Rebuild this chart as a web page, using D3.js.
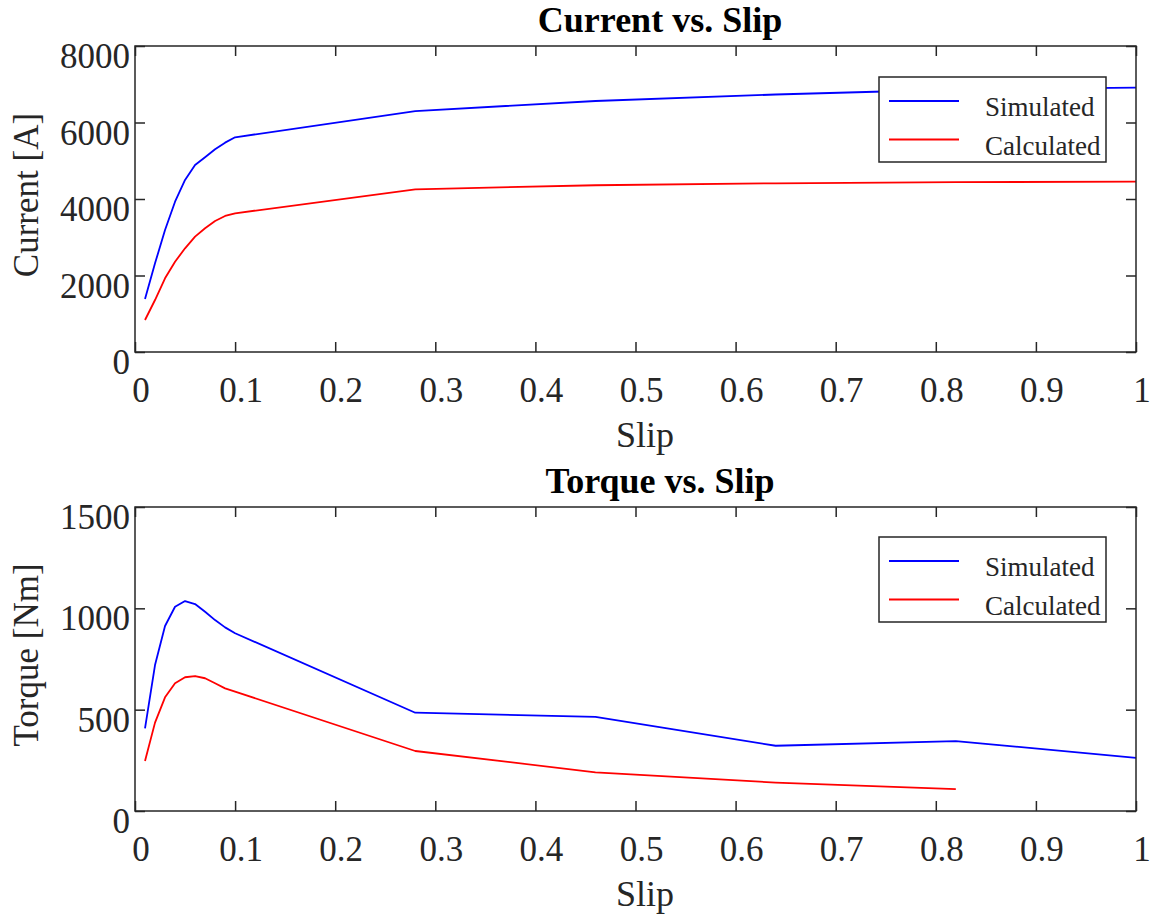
<!DOCTYPE html>
<html>
<head>
<meta charset="utf-8">
<script src="https://cdn.jsdelivr.net/npm/d3@7"></script>
<style>
  html, body { margin: 0; padding: 0; background: #fff; }
  svg text { font-family: "Liberation Serif", "Times New Roman", serif; fill: #262626; }
</style>
</head>
<body>
<svg id="chart" width="1155" height="916"></svg>
<script>
const slip = [0.01,0.02,0.03,0.04,0.05,0.06,0.07,0.08,0.09,0.1,0.28,0.46,0.64,0.82,1.0];
const currentSimulated  = [1385,2318,3190,3930,4497,4889,5090,5300,5473,5613,6300,6562,6732,6863,6912];
const currentCalculated = [837,1359,1926,2361,2711,3015,3234,3425,3556,3626,4253,4360,4410,4440,4453];
const torqueSimulated   = [408,720,913,1008,1036,1021,983,942,906,877,485,464,322,345,262];
const torqueCalculated  = [247,436,561,630,660,666,655,630,605,589,296,191,140,108];
const xTicks = [0,0.1,0.2,0.3,0.4,0.5,0.6,0.7,0.8,0.9,1];
const currentTicks = [0,2000,4000,6000,8000];
const torqueTicks = [0,500,1000,1500];
const seriesNames = ["Simulated","Calculated"];
const seriesColors = ["#0000ff","#ff0000"];

const svg = d3.select("#chart");
const frameColor = "#262626";

function panel(cfg) {
  const x = d3.scaleLinear().domain([0,1]).range([135,1136]);
  const y = d3.scaleLinear().domain(cfg.yDomain).range([cfg.bottom, cfg.top]);
  const g = svg.append("g");

  // lines
  const line = d3.line().x((d,i)=>x(slip[i])).y(d=>y(d));
  cfg.series.forEach((s,k)=>{
    g.append("path").datum(s).attr("d", line)
      .attr("fill","none").attr("stroke",seriesColors[k]).attr("stroke-width",1.8)
      .attr("stroke-linejoin","round");
  });

  // frame
  g.append("rect").attr("x",x(0)).attr("y",y(cfg.yDomain[1]))
    .attr("width",x(1)-x(0)).attr("height",y(cfg.yDomain[0])-y(cfg.yDomain[1]))
    .attr("fill","none").attr("stroke",frameColor).attr("stroke-width",1.5);

  // axes with inward ticks
  const xb = d3.axisBottom(x).tickValues(xTicks).tickSize(-10).tickFormat("");
  const xt = d3.axisTop(x).tickValues(xTicks).tickSize(-10).tickFormat("");
  const yl = d3.axisLeft(y).tickValues(cfg.yTicks).tickSize(-10).tickFormat("");
  const yr = d3.axisRight(y).tickValues(cfg.yTicks).tickSize(-10).tickFormat("");
  [[xb,`translate(0,${cfg.bottom})`],[xt,`translate(0,${cfg.top})`],[yl,`translate(135,0)`],[yr,`translate(1136,0)`]].forEach(([ax,tr])=>{
    const a = g.append("g").attr("transform",tr).call(ax);
    a.select(".domain").remove();
    a.selectAll("line").attr("stroke",frameColor).attr("stroke-width",1.5);
  });

  // x tick labels
  g.selectAll(".xl").data(xTicks).enter().append("text")
    .attr("x",d=>x(d)+6).attr("y",cfg.bottom+50)
    .attr("text-anchor","middle").attr("font-size",35)
    .text(d=>d3.format("~g")(d));
  // y tick labels
  g.selectAll(".yl").data(cfg.yTicks).enter().append("text")
    .attr("x",130).attr("y",d=>y(d)+22)
    .attr("text-anchor","end").attr("font-size",35)
    .text(d=>d);

  // title
  g.append("text").attr("x",660).attr("y",cfg.top-14)
    .attr("text-anchor","middle").attr("font-size",36).attr("font-weight","bold")
    .style("fill","#000").text(cfg.title);
  // x label
  g.append("text").attr("x",645).attr("y",cfg.bottom+95)
    .attr("text-anchor","middle").attr("font-size",36).text("Slip");
  // y label
  const cy = (cfg.top+cfg.bottom)/2 - 4;
  g.append("text").attr("transform",`translate(38,${cy}) rotate(-90)`)
    .attr("text-anchor","middle").attr("font-size",35).text(cfg.yLabel);

  // legend
  const lx = 879, ly = cfg.legendTop;
  const lg = g.append("g");
  lg.append("rect").attr("x",lx).attr("y",ly).attr("width",227).attr("height",85)
    .attr("fill","#fff").attr("stroke",frameColor).attr("stroke-width",1.5);
  seriesNames.forEach((n,k)=>{
    const yy = ly + 24 + k*38.5;
    lg.append("line").attr("x1",lx+10).attr("x2",lx+80).attr("y1",yy).attr("y2",yy)
      .attr("stroke",seriesColors[k]).attr("stroke-width",1.8);
    lg.append("text").attr("x",lx+106).attr("y",yy+15).attr("font-size",27).text(n);
  });
}

panel({
  top:46, bottom:352, yDomain:[0,8000], yTicks:currentTicks,
  series:[currentSimulated,currentCalculated],
  title:"Current vs. Slip", yLabel:"Current [A]", legendTop:77
});
panel({
  top:507, bottom:811, yDomain:[0,1500], yTicks:torqueTicks,
  series:[torqueSimulated,torqueCalculated],
  title:"Torque vs. Slip", yLabel:"Torque [Nm]", legendTop:537
});
</script>
</body>
</html>
